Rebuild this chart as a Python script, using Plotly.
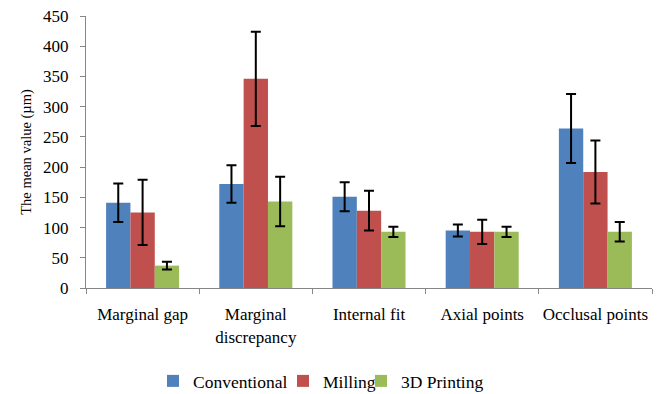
import plotly.graph_objects as go

categories = ["Marginal gap", "Marginal<br>discrepancy", "Internal fit", "Axial points", "Occlusal points"]
conventional = [141, 172, 151, 95, 264]
conventional_err = [32, 31, 24, 10, 57]
milling = [125, 346, 128, 93, 192]
milling_err = [54, 78, 33, 20, 52]
printing = [37, 143, 93, 93, 93]
printing_err = [6.5, 41, 8.5, 8.5, 16]

series = [
    ("Conventional", conventional, conventional_err, "#4F81BD", "legend"),
    ("Milling", milling, milling_err, "#C0504D", "legend2"),
    ("3D Printing", printing, printing_err, "#9BBB59", "legend3"),
]

FONT = "Liberation Serif"
W, H = 658, 386  # page body has an 8px margin

fig = go.Figure()
for name, vals, errs, color, leg in series:
    fig.add_trace(go.Bar(
        name=name, x=categories, y=vals, legend=leg,
        marker=dict(color=color, line=dict(width=0)),
        error_y=dict(type="data", array=errs, visible=True, color="black", thickness=2, width=5),
    ))

def legend_at(xpx):
    return dict(orientation="h", x=xpx / W, xanchor="left", xref="container",
                y=(H - 355) / H, yanchor="top", yref="container",
                font=dict(family=FONT, size=17.5, color="black"), itemwidth=30,
                bgcolor="rgba(0,0,0,0)")

fig.update_layout(
    width=W, height=H,
    margin=dict(l=78, r=14, t=8, b=106, autoexpand=False),
    paper_bgcolor="white", plot_bgcolor="white",
    barmode="group", bargap=0.355, bargroupgap=0,
    font=dict(family=FONT, size=14, color="black"),
    showlegend=True,
    legend=legend_at(145),
    legend2=legend_at(275),
    legend3=legend_at(353),
    xaxis=dict(showline=True, linecolor="#868686", linewidth=1, ticks="outside",
               tickson="boundaries", ticklen=5, tickcolor="#868686",
               tickfont=dict(family=FONT, size=17), showgrid=False, tickangle=0,
               ticklabelstandoff=11, automargin=False, ticklabeloverflow="allow"),
    yaxis=dict(range=[0, 450], dtick=50, showline=True, linecolor="#868686", linewidth=1,
               ticks="outside", ticklen=5, tickcolor="#868686", showgrid=False,
               tickfont=dict(family=FONT, size=17), zeroline=False,
               ticklabelstandoff=8, automargin=False, ticklabeloverflow="allow",
               title=dict(text="The mean value (µm)", font=dict(family=FONT, size=14.5), standoff=8)),
)

fig.write_html("out.html")
